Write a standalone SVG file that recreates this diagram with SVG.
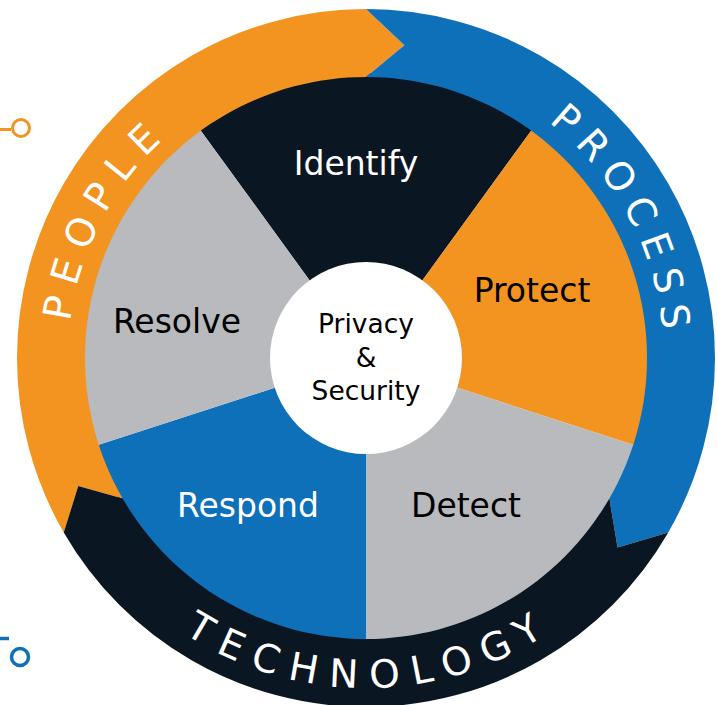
<svg xmlns="http://www.w3.org/2000/svg" xmlns:xlink="http://www.w3.org/1999/xlink" width="717" height="705" viewBox="0 0 717 705">
<style>
.lbl{font-family:"DejaVu Sans","Liberation Sans",sans-serif;font-size:33px;text-anchor:middle}
.ctr{font-family:"DejaVu Sans","Liberation Sans",sans-serif;font-size:26.5px;text-anchor:middle;fill:#000}
.ring{font-family:"DejaVu Sans","Liberation Sans",sans-serif;font-size:39px;fill:#fff;text-anchor:middle}
.w{fill:#fff}.k{fill:#000}
</style>
<defs>
<path id="pPeople" d="M 74.46 419.71 A 298 298 0 0 1 254.61 81.60"/>
<path id="pProcess" d="M 478.35 81.99 A 298 298 0 0 1 657.32 420.72"/>
<path id="pTech" d="M 135.54 594.18 A 330 330 0 0 0 602.18 588.46"/>
</defs>
<rect width="717" height="705" fill="#fff"/>
<g id="sectors">
<g id="identify"><path d="M366 358 L198.481 127.430 A285 285 0 0 1 533.519 127.430 Z" fill="#0A1722"/><text class="lbl w" x="356" y="175">Identify</text></g>
<g id="protect"><path d="M366 358 L533.519 127.430 A285 285 0 0 1 637.051 446.070 Z" fill="#F39320"/><text class="lbl k" x="532" y="302">Protect</text></g>
<g id="detect"><path d="M366 358 L637.051 446.070 A285 285 0 0 1 366 643 Z" fill="#B9BABD"/><text class="lbl k" x="466" y="517">Detect</text></g>
<g id="respond"><path d="M366 358 L366 643 A285 285 0 0 1 94.949 446.070 Z" fill="#0E70B8"/><text class="lbl w" x="248" y="517">Respond</text></g>
<g id="resolve"><path d="M366 358 L94.949 446.070 A285 285 0 0 1 198.481 127.430 Z" fill="#B9BABD"/><text class="lbl k" x="177" y="333">Resolve</text></g>
</g>
<g id="ringSegments">
<g id="people"><path d="M 63.757 532.5 A 349 349 0 0 1 366 9 L 404.389 45.348 L 366 77 A 281 281 0 0 0 122.647 498.5 L 78.233 486.122 Z" fill="#F39320"/>
<text class="ring" letter-spacing="11.7"><textPath xlink:href="#pPeople" href="#pPeople" startOffset="50%">PEOPLE</textPath></text></g>
<g id="process"><path d="M 366 9 A 349 349 0 0 1 668.243 532.5 L 617.570 547.572 L 609.353 498.5 A 281 281 0 0 0 366 77 L 404.389 45.348 Z" fill="#0E70B8"/>
<text class="ring" letter-spacing="10.2"><textPath xlink:href="#pProcess" href="#pProcess" startOffset="50%">PROCESS</textPath></text></g>
<g id="technology"><path d="M 668.243 532.5 A 349 349 0 0 1 63.757 532.5 L 78.233 486.122 L 122.647 498.5 A 281 281 0 0 0 609.353 498.5 L 617.570 547.572 Z" fill="#0A1722"/>
<text class="ring" letter-spacing="12.6"><textPath xlink:href="#pTech" href="#pTech" startOffset="50%">TECHNOLOGY</textPath></text></g>
</g>
<g id="center">
<circle cx="366" cy="358" r="96" fill="#fff"/>
<text class="ctr" x="366" y="333">Privacy</text>
<text class="ctr" x="366" y="367">&amp;</text>
<text class="ctr" x="366" y="400">Security</text>
</g>
<g id="connectors">
<line x1="0" y1="129.5" x2="11" y2="129.5" stroke="#F39320" stroke-width="3"/>
<circle cx="21" cy="128" r="8.5" fill="#fff" stroke="#F39320" stroke-width="3"/>
<line x1="0" y1="638.5" x2="9" y2="638.5" stroke="#0E70B8" stroke-width="3.5"/>
<circle cx="20" cy="657" r="8.5" fill="#fff" stroke="#0E70B8" stroke-width="3.5"/>
</g>
</svg>
